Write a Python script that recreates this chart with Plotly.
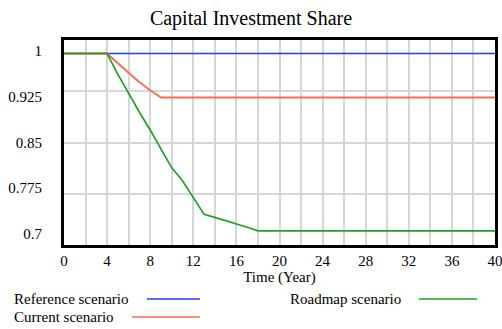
import plotly.graph_objects as go

# Series values (year -> share)
reference_years = [0, 40]
reference_share = [1.0, 1.0]

current_years = [0, 4, 5, 6, 7, 8, 9, 40]
current_share = [1.0, 1.0, 0.984, 0.968, 0.953, 0.940, 0.928, 0.928]

roadmap_years = [0, 4, 5, 6, 7, 8, 9, 10, 11, 12, 13, 14, 15, 16, 17, 18, 40]
roadmap_share = [1.0, 1.0, 0.966, 0.934, 0.904, 0.875, 0.845, 0.813, 0.792,
                 0.765, 0.737, 0.732, 0.727, 0.721, 0.716, 0.710, 0.710]

y_ticks = [1, 0.925, 0.85, 0.775, 0.7]
y_tick_text = ["1", "0.925", "0.85", "0.775", "0.7"]
x_ticks = list(range(0, 41, 4))

SERIF = "Liberation Serif, Times New Roman, serif"
GRID = "#d6d6d6"
BLUE = "#1e3cff"
RED = "#ff6a4d"
GREEN = "#22a022"

Y_MIN, Y_MAX = 0.6869, 1.0221

fig = go.Figure()
fig.add_trace(go.Scatter(x=reference_years, y=reference_share, mode="lines",
                         line=dict(color=BLUE, width=1.3), name="Reference scenario"))
fig.add_trace(go.Scatter(x=current_years, y=current_share, mode="lines",
                         line=dict(color=RED, width=1.9), name="Current scenario"))
fig.add_trace(go.Scatter(x=roadmap_years, y=roadmap_share, mode="lines",
                         line=dict(color=GREEN, width=1.7), name="Roadmap scenario"))

fig.update_layout(
    width=502,
    height=329,
    margin=dict(l=64, r=7, t=40, b=84, autoexpand=False),
    paper_bgcolor="white",
    plot_bgcolor="white",
    showlegend=False,
    font=dict(family=SERIF, size=15, color="black"),
    title=dict(text="Capital Investment Share", x=0.5, xanchor="center",
               y=1 - 18 / 329, yanchor="middle", yref="container",
               font=dict(family=SERIF, size=20, color="black")),
)

fig.update_xaxes(
    range=[0, 40],
    tickvals=x_ticks,
    automargin=False,
    ticklabeloverflow="allow",
    showgrid=True, gridcolor=GRID, gridwidth=1.5,
    minor=dict(dtick=2, tick0=0, showgrid=True, gridcolor=GRID, gridwidth=1.5),
    showline=True, linecolor="black", linewidth=3, mirror=True,
    zeroline=False, ticks="",
    title=dict(text="Time (Year)", standoff=2, font=dict(family=SERIF, size=15)),
    tickfont=dict(family=SERIF, size=15),
)
fig.update_yaxes(
    range=[Y_MIN, Y_MAX],
    tickvals=y_ticks, ticktext=y_tick_text,
    automargin=False,
    showgrid=False,
    minor=dict(tick0=Y_MIN, dtick=(Y_MAX - Y_MIN) / 4, showgrid=True,
               gridcolor=GRID, gridwidth=1.5),
    showline=True, linecolor="black", linewidth=3, mirror=True,
    zeroline=False, ticks="", ticklabelstandoff=16, ticklabelshift=-3,
    tickfont=dict(family=SERIF, size=15),
)

# Legend drawn below the plot: label text followed by a line sample
def px_x(px):
    return (px - 64) / 431


def px_y(py):
    return (245 - py) / 205


legend_items = [
    ("Reference scenario", 12, 299, 147, 200, BLUE),
    ("Current scenario", 12, 317, 132, 200, RED),
    ("Roadmap scenario", 288, 299, 419, 477, GREEN),
]
for label, tx, ty, lx0, lx1, color in legend_items:
    fig.add_annotation(text=label, xref="paper", yref="paper",
                       x=px_x(tx), y=px_y(ty), xanchor="left", yanchor="middle",
                       showarrow=False, font=dict(family=SERIF, size=15, color="black"))
    fig.add_shape(type="line", xref="paper", yref="paper",
                  x0=px_x(lx0), x1=px_x(lx1), y0=px_y(ty), y1=px_y(ty),
                  line=dict(color=color, width=1.6))

# drop the default page margin so the figure sits at the window's corner
fig.write_html("out.html", config={"displayModeBar": False},
               post_script="document.body.style.margin='0';")
